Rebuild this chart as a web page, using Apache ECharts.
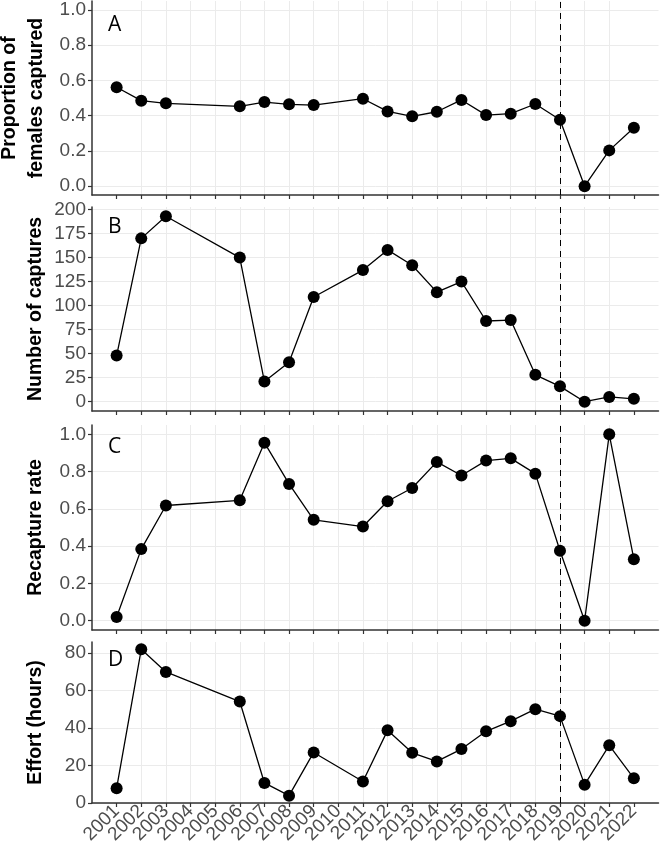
<!DOCTYPE html>
<html>
<head>
<meta charset="utf-8">
<script src="https://cdn.jsdelivr.net/npm/echarts@6/dist/echarts.min.js"></script>
<style>
  html, body { margin: 0; padding: 0; background: #fff; }
  #chart { width: 661px; height: 850px; }
</style>
</head>
<body>
<div id="chart"></div>
<script>
// years with data (no sampling in 2004, 2005, 2010)
const years = [2001, 2002, 2003, 2006, 2007, 2008, 2009, 2011, 2012, 2013, 2014, 2015, 2016, 2017, 2018, 2019, 2020, 2021, 2022]
const yearTicks = [2001, 2002, 2003, 2004, 2005, 2006, 2007, 2008, 2009, 2010, 2011, 2012, 2013, 2014, 2015, 2016, 2017, 2018, 2019, 2020, 2021, 2022]

const propFemales = [0.561, 0.485, 0.470, 0.453, 0.477, 0.464, 0.460, 0.496, 0.424, 0.396, 0.422, 0.489, 0.403, 0.411, 0.466, 0.377, 0.0, 0.203, 0.331]
const captures = [48, 170, 193, 150, 21, 41, 109, 137, 158, 142, 114, 125, 84, 85, 28, 16, 0, 5, 3]
const recapture = [0.020, 0.384, 0.618, 0.646, 0.955, 0.734, 0.541, 0.505, 0.641, 0.712, 0.852, 0.779, 0.859, 0.871, 0.789, 0.375, 0.0, 1.0, 0.330]
const effort = [7.9, 82.1, 70.0, 54.2, 10.7, 3.9, 27.0, 11.5, 38.8, 26.8, 22.2, 28.8, 38.3, 43.7, 50.1, 46.4, 9.8, 30.8, 13.2]

const propTicks = [0, 0.2, 0.4, 0.6, 0.8, 1.0]
const captureTicks = [0, 25, 50, 75, 100, 125, 150, 175, 200]
const recaptureTicks = [0, 0.2, 0.4, 0.6, 0.8, 1.0]
const effortTicks = [0, 20, 40, 60, 80]

const cutYear = 2019

// one empty slot each side gives the ggplot-like padding around the years
const xCats = [''].concat(yearTicks.map(String), [''])
const notPad = (idx, val) => val !== ''

const panels = [
  { letter: 'A', letterTop: 10, name: 'Proportion of\nfemales captured', nameGap: 42, data: propFemales, ticks: propTicks, min: -0.05, max: 1.05, top: 1, height: 194, dec: 1 },
  { letter: 'B', letterTop: 212, name: 'Number of captures', nameGap: 43, data: captures, ticks: captureTicks, min: -9.65, max: 202.65, top: 207, height: 204, dec: 0 },
  { letter: 'C', letterTop: 432, name: 'Recapture rate', nameGap: 43, data: recapture, ticks: recaptureTicks, min: -0.05, max: 1.05, top: 425, height: 205, dec: 1 },
  { letter: 'D', letterTop: 645, name: 'Effort (hours)', nameGap: 43, data: effort, ticks: effortTicks, min: -0.01, max: 86.0, top: 642, height: 161, dec: 0 }
]

const chart = echarts.init(document.getElementById('chart'), null, { renderer: 'canvas' })

const grid = []
const xAxis = []
const yAxis = []
const series = []
const title = []

panels.forEach((p, i) => {
  grid.push({ left: 92, right: 2.5, top: p.top, height: p.height, containLabel: false, outerBoundsMode: 'none' })
  const last = i === panels.length - 1
  xAxis.push({
    type: 'category',
    gridIndex: i,
    data: xCats,
    boundaryGap: false,
    axisLine: { show: true, onZero: false, lineStyle: { color: '#333', width: 1.5 } },
    axisTick: { show: true, length: 4, interval: notPad, lineStyle: { color: '#333', width: 1.2 } },
    axisLabel: {
      show: last,
      interval: 0,
      rotate: 45,
      margin: 5,
      color: '#4d4d4d',
      fontSize: 19,
      fontFamily: 'Liberation Sans, Arial, sans-serif'
    },
    splitLine: { show: true, interval: notPad, showMinLine: false, showMaxLine: false, lineStyle: { color: '#ebebeb', width: 1 } }
  })
  yAxis.push({
    type: 'value',
    gridIndex: i,
    min: p.min,
    max: p.max,
    name: p.name,
    nameLocation: 'middle',
    nameRotate: 90,
    nameGap: p.nameGap,
    nameMoveOverlap: false,
    nameTextStyle: {
      color: '#000',
      fontSize: 19.5,
      fontWeight: 'bold',
      fontFamily: 'Liberation Sans, Arial, sans-serif',
      lineHeight: 27
    },
    axisLine: { show: true, lineStyle: { color: '#333', width: 1.5 } },
    axisTick: { show: true, length: 4, customValues: p.ticks, lineStyle: { color: '#333', width: 1.2 } },
    axisLabel: {
      customValues: p.ticks,
      showMinLabel: true,
      showMaxLabel: true,
      margin: 6,
      color: '#4d4d4d',
      fontSize: 19,
      fontFamily: 'Liberation Sans, Arial, sans-serif',
      formatter: v => v.toFixed(p.dec)
    },
    splitLine: { show: true, lineStyle: { color: '#ebebeb', width: 1 } }
  })
  series.push({
    type: 'line',
    xAxisIndex: i,
    yAxisIndex: i,
    data: years.map((y, k) => [String(y), p.data[k]]),
    symbol: 'circle',
    symbolSize: 12,
    itemStyle: { color: '#000' },
    lineStyle: { color: '#000', width: 1.3 },
    animation: false,
    markLine: {
      silent: true,
      symbol: 'none',
      label: { show: false },
      lineStyle: { color: '#000', type: [6, 5], width: 1 },
      data: [{ xAxis: String(cutYear) }]
    }
  })
  title.push({
    text: p.letter,
    left: 103,
    top: p.letterTop,
    textStyle: { fontSize: 21, fontWeight: 'normal', color: '#000', fontFamily: 'Open Sans, sans-serif' }
  })
})

chart.setOption({
  backgroundColor: '#fff',
  animation: false,
  title: title,
  grid: grid,
  xAxis: xAxis,
  yAxis: yAxis,
  series: series
})
</script>
</body>
</html>
